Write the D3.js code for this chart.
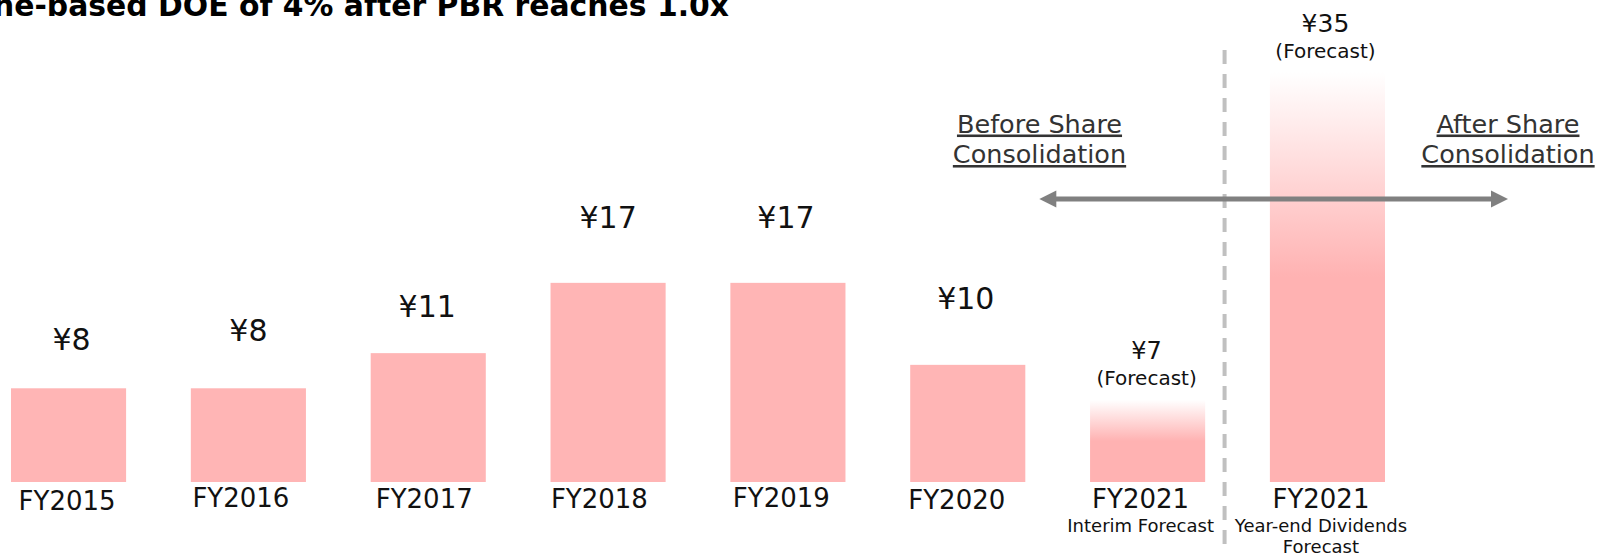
<!DOCTYPE html>
<html>
<head>
<meta charset="utf-8">
<script src="https://cdn.jsdelivr.net/npm/d3@7"></script>
<style>
  body { margin: 0; background: #fff; }
  text { font-family: "DejaVu Sans", Verdana, sans-serif; }
</style>
</head>
<body>
<svg id="chart"></svg>
<script>
// Data
var keys = ["FY2015", "FY2016", "FY2017", "FY2018", "FY2019", "FY2020", "FY2021H1", "FY2021YE"];
var yearLabels = ["FY2015", "FY2016", "FY2017", "FY2018", "FY2019", "FY2020", "FY2021", "FY2021"];
var subLabels = [[], [], [], [], [], [], ["Interim Forecast"], ["Year-end Dividends", "Forecast"]];
var dividends = [8, 8, 11, 17, 17, 10, 7, 35];
var valueLabels = ["¥8", "¥8", "¥11", "¥17", "¥17", "¥10", "¥7", "¥35"];
var isForecast = [false, false, false, false, false, false, true, true];
var titleText = "ne-based DOE of 4% after PBR reaches 1.0x";
var beforeText = ["Before Share", "Consolidation"];
var afterText = ["After Share", "Consolidation"];

// Layout tweaks: the slide's text boxes are not aligned, so each one gets its own offset
var labelLift = [38, 47, 36, 55, 55, 56, 41, 40];
var valueShift = [3, 0, -1, 0, -2, -2, -1, -2];
var catShift = [-1.5, -7.5, -4, -8.7, -6.6, -11, -7, -6.5];
var catBase = [510, 507, 508, 508.3, 506.7, 509.3, 508.3, 508.3];

var width = 1599,
  height = 554,
  barColor = "#ffb5b5",
  arrowColor = "#808080";

var data = keys.map(function (k, i) {
  return { key: k, value: dividends[i], label: valueLabels[i], year: yearLabels[i],
    sub: subLabels[i], forecast: isForecast[i], lift: labelLift[i],
    vShift: valueShift[i], cShift: catShift[i], cBase: catBase[i] };
});

var svg = d3.select("#chart").attr("width", width).attr("height", height);

svg.append("rect").attr("width", width).attr("height", height).attr("fill", "#fff");

// Fading fill for the forecast bars
var grad = svg.append("defs").append("linearGradient")
  .attr("id", "fade")
  .attr("x1", 0).attr("y1", 0).attr("x2", 0).attr("y2", 1);
grad.append("stop").attr("offset", 0).attr("stop-color", "#ffffff");
grad.append("stop").attr("offset", 0.5).attr("stop-color", "#ffb2b2");
grad.append("stop").attr("offset", 1).attr("stop-color", "#ffb2b2");

// Scales
var x = d3.scaleBand().domain(keys).range([11, 1385]).paddingInner(0.36).paddingOuter(0);
var y = d3.scaleLinear().domain([0, 35]).range([482, 72]);
var bw = x.bandwidth();

// Title (cut off at the top of the slide)
svg.append("text")
  .attr("x", -7)
  .attr("y", 16)
  .attr("font-size", "31px")
  .attr("font-weight", "bold")
  .attr("fill", "#000")
  .attr("textLength", 736)
  .attr("lengthAdjust", "spacingAndGlyphs")
  .text(titleText);

// Dashed divider between interim and year-end
var divX = x("FY2021H1") + bw + (x("FY2021YE") - x("FY2021H1") - bw) * 0.3;
svg.append("line")
  .attr("x1", divX).attr("x2", divX)
  .attr("y1", 50).attr("y2", height)
  .attr("stroke", "#c0c0c0")
  .attr("stroke-width", 4)
  .attr("stroke-dasharray", "14,10");

// Bars
svg.selectAll(".bar")
  .data(data)
  .enter()
  .append("rect")
  .attr("class", "bar")
  .attr("x", function (d) { return x(d.key); })
  .attr("y", function (d) { return y(d.value); })
  .attr("width", bw)
  .attr("height", function (d) { return y(0) - y(d.value); })
  .attr("fill", function (d) { return d.forecast ? "url(#fade)" : barColor; });

// Double arrow across the consolidation boundary
var arrowY = 199,
  arrowL = x("FY2020") + bw + 14,
  arrowR = x("FY2021YE") + bw + 123,
  headLen = 17,
  headHalf = 8.5;
svg.append("line")
  .attr("x1", arrowL + headLen - 2).attr("x2", arrowR - headLen + 2)
  .attr("y1", arrowY).attr("y2", arrowY)
  .attr("stroke", arrowColor)
  .attr("stroke-width", 5);
svg.append("path")
  .attr("d", "M" + arrowL + "," + arrowY + "L" + (arrowL + headLen) + "," + (arrowY - headHalf) +
    "L" + (arrowL + headLen) + "," + (arrowY + headHalf) + "Z")
  .attr("fill", arrowColor);
svg.append("path")
  .attr("d", "M" + arrowR + "," + arrowY + "L" + (arrowR - headLen) + "," + (arrowY - headHalf) +
    "L" + (arrowR - headLen) + "," + (arrowY + headHalf) + "Z")
  .attr("fill", arrowColor);

// Before / after captions
function caption(lines, cx) {
  var t = svg.append("text")
    .attr("text-anchor", "middle")
    .attr("font-size", "25.5px")
    .attr("fill", "#333")
    .style("text-decoration", "underline");
  lines.forEach(function (s, i) {
    t.append("tspan").attr("x", cx).attr("y", 132.5 + i * 30.5).text(s);
  });
}
caption(beforeText, 1039.5);
caption(afterText, 1508);

// Value labels
var vals = svg.selectAll(".val")
  .data(data)
  .enter()
  .append("g")
  .attr("class", "val")
  .attr("transform", function (d) {
    return "translate(" + (x(d.key) + bw / 2 + d.vShift) + "," + (y(d.value) - d.lift) + ")";
  });

vals.append("text")
  .attr("text-anchor", "middle")
  .attr("font-size", function (d) { return d.forecast ? (d.value > 20 ? "25px" : "24px") : "30px"; })
  .attr("fill", "#111")
  .text(function (d) { return d.label; });

vals.filter(function (d) { return d.forecast; })
  .append("text")
  .attr("text-anchor", "middle")
  .attr("y", 26)
  .attr("font-size", "20px")
  .attr("fill", "#111")
  .text("(Forecast)");

// Category labels
var cats = svg.selectAll(".cat")
  .data(data)
  .enter()
  .append("g")
  .attr("class", "cat")
  .attr("transform", function (d) {
    return "translate(" + (x(d.key) + bw / 2 + d.cShift) + "," + d.cBase + ")";
  });

cats.append("text")
  .attr("text-anchor", "middle")
  .attr("font-size", "26px")
  .attr("fill", "#111")
  .text(function (d) { return d.year; });

cats.each(function (d) {
  var g = d3.select(this);
  d.sub.forEach(function (s, i) {
    g.append("text")
      .attr("text-anchor", "middle")
      .attr("y", 24 + i * 21)
      .attr("font-size", "18px")
      .attr("fill", "#111")
      .text(s);
  });
});
</script>
</body>
</html>
